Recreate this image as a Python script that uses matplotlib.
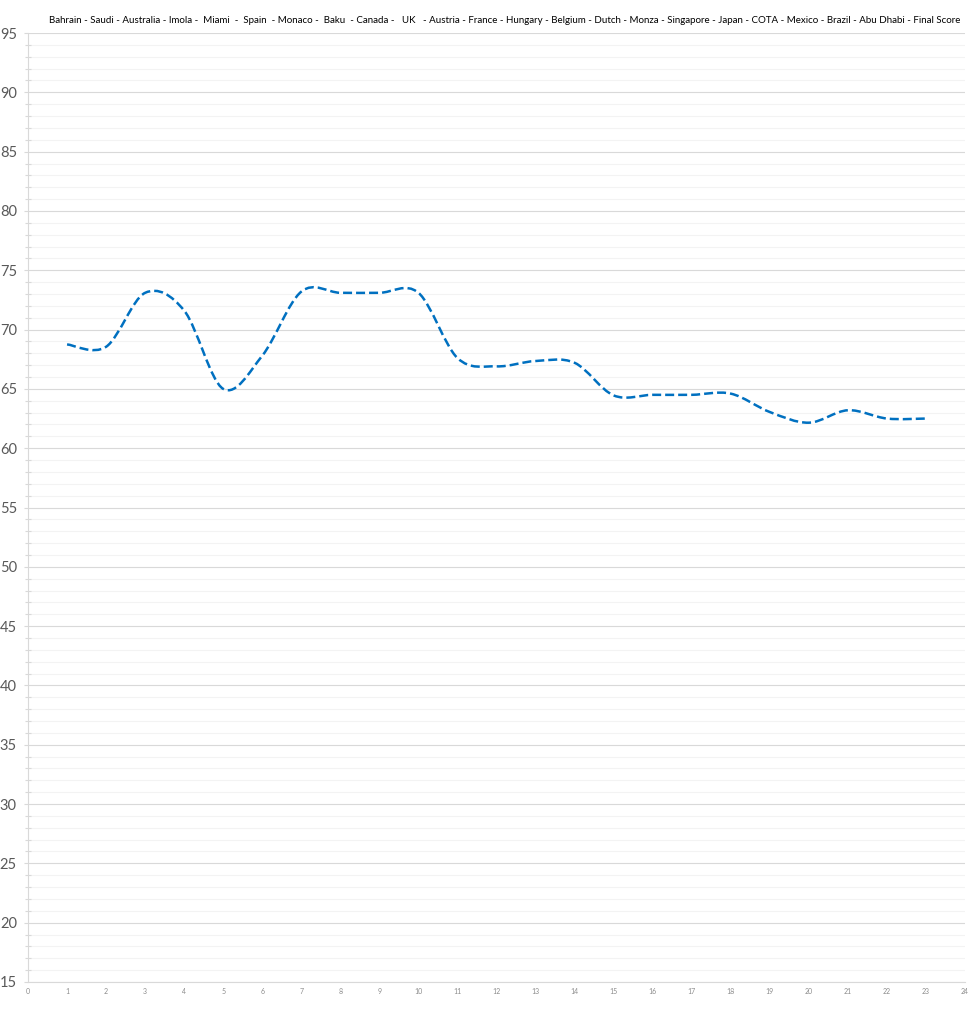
import matplotlib
matplotlib.use("Agg")
import matplotlib.pyplot as plt
from matplotlib.path import Path
from matplotlib.patches import PathPatch
from matplotlib.ticker import MultipleLocator

# race index and score after each race
races = list(range(1, 24))
scores = [68.75, 68.55, 73.1, 71.6, 65.0, 67.8, 73.2, 73.1, 73.1, 73.1,
          67.6, 66.9, 67.35, 67.2, 64.45, 64.5, 64.5, 64.6, 63.05, 62.15,
          63.2, 62.5, 62.5]
title = ("Bahrain - Saudi - Australia - Imola -  Miami  -  Spain  - Monaco -  Baku  - "
         "Canada -   UK   - Austria - France - Hungary - Belgium - Dutch - Monza - "
         "Singapore - Japan - COTA - Mexico - Brazil - Abu Dhabi - Final Score")

plt.rcParams['font.family'] = ['Lato', 'DejaVu Sans']


def smooth_path(xs, ys):
    # Excel style smoothed line: cubic bezier, control points at 1/6 of neighbour span
    n = len(xs)
    verts = [(xs[0], ys[0])]
    codes = [Path.MOVETO]
    for i in range(n - 1):
        x0, y0 = xs[max(i - 1, 0)], ys[max(i - 1, 0)]
        x1, y1 = xs[i], ys[i]
        x2, y2 = xs[i + 1], ys[i + 1]
        x3, y3 = xs[min(i + 2, n - 1)], ys[min(i + 2, n - 1)]
        c1 = (x1 + (x2 - x0) / 6, y1 + (y2 - y0) / 6)
        c2 = (x2 - (x3 - x1) / 6, y2 - (y3 - y1) / 6)
        verts += [c1, c2, (x2, y2)]
        codes += [Path.CURVE4] * 3
    return Path(verts, codes)


fig = plt.figure(figsize=(9.73, 10.23), dpi=100)
ax = fig.add_axes([0.0288, 0.0401, 0.963, 0.9276])

ax.set_xlim(0, 24)
ax.set_ylim(15, 95)

patch = PathPatch(smooth_path(races, scores), fill=False, edgecolor='#0070C0',
                  linewidth=1.8, linestyle=(0, (3.6, 1.6)), capstyle='butt', zorder=3)
ax.add_patch(patch)

ax.yaxis.set_major_locator(MultipleLocator(5))
ax.yaxis.set_minor_locator(MultipleLocator(1))
ax.xaxis.set_major_locator(MultipleLocator(1))

ax.grid(True, axis='y', which='major', color='#d9d9d9', linewidth=0.8)
ax.grid(True, axis='y', which='minor', color='#f3f3f3', linewidth=0.8)
ax.set_axisbelow(True)

for side in ['top', 'right']:
    ax.spines[side].set_visible(False)
ax.spines['left'].set_color('#d9d9d9')
ax.spines['bottom'].set_color('#d9d9d9')
ax.spines['left'].set_linewidth(0.8)
ax.spines['bottom'].set_linewidth(0.8)

ax.tick_params(axis='y', which='major', length=3, width=0.8, color='#d9d9d9',
               labelsize=10.5, labelcolor='#595959', pad=5)
ax.tick_params(axis='y', which='minor', direction='inout', length=5, width=0.8,
               color='#d9d9d9')
ax.tick_params(axis='x', which='major', length=0, labelsize=5, labelcolor='#8c8c8c', pad=4)

fig.text(0.519, 0.980, title, ha='center', va='center', fontsize=7, color='#000000')

fig.savefig('out.png', dpi=100, facecolor='white')
